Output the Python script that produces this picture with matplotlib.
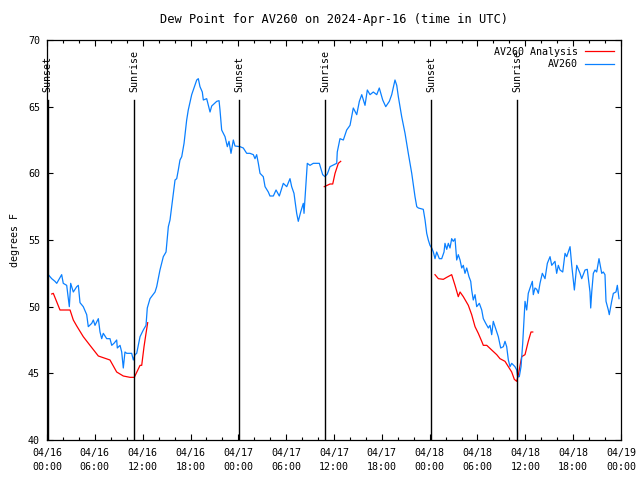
import numpy as np
import matplotlib
matplotlib.use('Agg')
import matplotlib.pyplot as plt
from matplotlib.ticker import MultipleLocator, FuncFormatter

# hours since 2024-04-16 00:00 UTC
obs_hours = [0.0, 0.16, 0.59, 1.0, 1.22, 1.84, 2.04, 2.47, 2.67, 2.80, 2.97, 3.30, 3.73, 3.93,
             4.14, 4.55, 4.98, 5.18, 5.61, 5.81, 6.02, 6.44, 6.65, 6.86, 7.06, 7.49, 7.90, 8.12,
             8.40, 8.74, 8.82, 9.16, 9.37, 9.57, 9.78, 10.0, 10.62, 10.83, 11.04, 11.25, 11.67,
             12.08, 12.42, 12.58, 12.92, 13.55, 13.76, 14.17, 14.59, 14.93, 15.22, 15.43, 15.64,
             15.84, 16.06, 16.27, 16.47, 16.68, 16.90, 17.19, 17.52, 17.72, 18.15, 18.44, 18.78,
             18.98, 19.19, 19.48, 19.61, 20.03, 20.45, 20.66, 21.29, 21.58, 21.70, 21.91, 22.33,
             22.62, 22.83, 23.08, 23.37, 23.58, 24.21, 24.62, 25.05, 25.46, 25.88, 26.09, 26.30,
             26.51, 26.72, 27.13, 27.35, 27.76, 27.97, 28.39, 28.73, 29.14, 29.64, 30.07, 30.48,
             30.69, 30.98, 31.32, 31.52, 31.82, 32.15, 32.24, 32.65, 32.99, 33.40, 34.16, 34.58,
             34.87, 35.16, 35.50, 36.34, 36.41, 36.75, 37.17, 37.59, 38.01, 38.42, 38.85, 39.18,
             39.48, 39.89, 40.18, 40.52, 40.93, 41.36, 41.68, 42.11, 42.49, 42.94, 43.24, 43.65,
             43.87, 44.07, 44.49, 44.91, 45.32, 45.75, 46.16, 46.38, 46.58, 47.20, 47.42, 47.63,
             47.83, 48.04, 48.26, 48.46, 48.67, 48.88, 49.21, 49.51, 49.80, 49.92, 50.14, 50.34,
             50.55, 50.76, 50.96, 51.18, 51.39, 51.59, 51.81, 52.02, 52.22, 52.43, 52.65, 52.93,
             53.15, 53.27, 53.47, 53.69, 53.90, 54.23, 54.53, 54.73, 55.03, 55.36, 55.57, 55.78,
             55.98, 56.20, 56.61, 56.91, 57.24, 57.45, 57.66, 57.87, 58.08, 58.29, 58.70, 58.92,
             59.04, 59.24, 59.46, 59.67, 59.83, 59.96, 60.17, 60.37, 60.59, 60.88, 61.00, 61.21,
             61.43, 61.63, 61.84, 62.13, 62.47, 62.76, 63.10, 63.31, 63.72, 63.93, 64.14, 64.35,
             64.69, 64.98, 65.19, 65.39, 65.61, 65.82, 66.02, 66.15, 66.45, 66.86, 67.07, 67.49,
             67.77, 68.11, 68.20, 68.33, 68.53, 68.74, 68.95, 69.24, 69.58, 69.78, 69.99, 70.12,
             70.41, 70.53, 70.83, 71.04, 71.37, 71.54, 71.75]
obs_dewpt = [53.2, 52.4, 52.1, 51.9, 51.75, 52.4, 51.75, 51.6, 50.6, 50.0, 51.75, 51.1, 51.5, 51.6,
             50.3, 50.0, 49.4, 48.5, 48.75, 49.0, 48.6, 49.1, 48.1, 47.6, 48.0, 47.6, 47.6, 47.1,
             47.25, 47.5, 46.9, 47.1, 46.6, 45.4, 46.6, 46.5, 46.5, 46.0, 46.4, 46.5, 47.75,
             48.25, 48.6, 49.9, 50.6, 51.1, 51.5, 52.75, 53.75, 54.1, 56.0, 56.5, 57.5,
             58.5, 59.5, 59.6, 60.25, 61.0, 61.25, 62.25, 64.0, 64.75, 65.9, 66.4, 67.0,
             67.1, 66.5, 66.1, 65.5, 65.6, 64.6, 65.05, 65.4, 65.45, 64.75, 63.25, 62.75,
             62.0, 62.4, 61.5, 62.5, 62.05, 62.0, 61.9, 61.5, 61.5, 61.4, 61.1, 61.4,
             60.75, 60.0, 59.75, 59.0, 58.6, 58.3, 58.3, 58.75, 58.3, 59.25, 59.0, 59.6,
             59.0, 58.5, 57.0, 56.4, 57.1, 57.75, 57.0, 60.75, 60.6, 60.75, 60.75, 59.9,
             59.75, 59.95, 60.5, 60.75, 61.6, 62.6, 62.5, 63.25, 63.6, 64.9, 64.4, 65.4,
             65.9, 65.1, 66.25, 65.9, 66.1, 65.9, 66.4, 65.5, 65.0, 65.4, 65.9, 67.0,
             66.6, 65.75, 64.25, 63.0, 61.5, 60.0, 58.25, 57.5, 57.4, 57.3, 56.5, 55.5,
             55.0, 54.6, 54.4, 54.1, 53.6, 54.1, 53.6, 53.6, 54.1, 54.75, 54.3, 54.75,
             54.4, 55.1, 54.9, 55.1, 53.5, 53.9, 53.5, 52.9, 53.1, 52.5, 52.9, 52.25,
             51.9, 51.25, 50.5, 50.9, 50.0, 50.25, 49.75, 49.1, 48.75, 48.4, 48.6, 47.9,
             48.9, 48.5, 47.75, 46.9, 47.0, 47.4, 47.0, 46.0, 45.5, 45.75, 45.5, 45.25,
             44.75, 44.75, 45.5, 47.25, 49.0, 50.4, 49.75, 51.0, 51.4, 51.9, 50.9, 51.4,
             51.3, 51.0, 51.75, 52.5, 52.1, 53.25, 53.75, 53.1, 53.4, 52.5, 53.1, 52.75,
             52.6, 54.0, 53.75, 54.1, 54.5, 53.1, 52.0, 51.25, 53.1, 52.5, 52.1, 52.75,
             52.8, 51.1, 49.9, 51.1, 52.5, 52.75, 52.6, 53.6, 52.5, 52.6, 52.4, 50.4,
             49.75, 49.4, 50.4, 51.0, 51.1, 51.6, 50.6]

# analysis segments (NaN = gap between runs)
ana_hours = [0.59, 0.79, 1.63, 2.89, 3.30, 3.73, 4.55, 5.39, 6.44, 7.90, 8.74, 9.57, 10.41, 10.95,
             11.67, 11.88, 12.17, 12.42, 12.63, np.nan,
             34.78, 35.50, 35.84, 36.13, 36.54, 36.84, np.nan,
             48.67, 49.09, 49.71, 50.14, 50.76, 51.18, 51.59, 51.81, 52.22, 52.85, 53.27, 53.69,
             54.10, 54.53, 54.73, 55.16, 55.78, 56.41, 56.82, 57.45, 57.87, 58.29, 58.62, 58.92,
             59.13, 59.54, 59.96, 60.37, 60.71, 60.93]
ana_dewpt = [50.95, 51.0, 49.75, 49.75, 49.0, 48.55, 47.75, 47.1, 46.3, 46.0, 45.1, 44.8, 44.7, 44.7,
             45.6, 45.6, 47.0, 48.0, 48.8, np.nan,
             59.0, 59.2, 59.2, 60.0, 60.75, 60.9, np.nan,
             52.4, 52.1, 52.05, 52.2, 52.4, 51.6, 50.75, 51.1, 50.75, 50.1, 49.4, 48.5,
             48.0, 47.4, 47.1, 47.1, 46.75, 46.4, 46.1, 45.9, 45.5, 45.1, 44.55, 44.4,
             44.9, 46.25, 46.4, 47.4, 48.1, 48.1]

sun_hours = [0.08, 10.9, 24.1, 34.9, 48.2, 59.0]
sun_labels = ['Sunset', 'Sunrise', 'Sunset', 'Sunrise', 'Sunset', 'Sunrise']
day_labels = ['04/16', '04/17', '04/18', '04/19']

plt.rcParams['font.family'] = 'DejaVu Sans Mono'
plt.rcParams['font.size'] = 7.2

fig = plt.figure(figsize=(6.4, 4.8), dpi=100)
ax = fig.add_axes([47/640, 40/480, 574/640, 400/480])

ax.plot(ana_hours, ana_dewpt, '-', color='#ff0000', linewidth=0.9, label='AV260 Analysis')
ax.plot(obs_hours, obs_dewpt, '-', color='#0a80ff', linewidth=0.9, label='AV260')

for h, lab in zip(sun_hours, sun_labels):
    ax.plot([h, h], [40, 65.5], color='black', linewidth=1.0)
    ax.text(h, 66.1, lab, rotation=90, ha='center', va='bottom')

ax.set_xlim(0, 72)
ax.set_ylim(40, 70)
ax.xaxis.set_major_locator(MultipleLocator(6))
ax.xaxis.set_minor_locator(MultipleLocator(2))
ax.yaxis.set_major_locator(MultipleLocator(5))

def fmt(v, pos):
    d = int(v // 24)
    return '%s\n%02d:00' % (day_labels[d], int(v % 24))
ax.xaxis.set_major_formatter(FuncFormatter(fmt))

ax.tick_params(which='both', direction='in', top=True, right=True, width=0.8)
ax.tick_params(which='major', length=4, pad=5)
ax.tick_params(axis='x', which='major', pad=6)
ax.tick_params(which='minor', length=2)
for lbl in ax.get_xticklabels():
    lbl.set_linespacing(1.45)
for s in ax.spines.values():
    s.set_linewidth(0.9)

ax.set_title('Dew Point for AV260 on 2024-Apr-16 (time in UTC)', pad=12)
ax.set_ylabel('degrees F', labelpad=6)

ax.legend(loc='upper right', frameon=False, markerfirst=False, handlelength=2.9,
          handletextpad=0.7, labelspacing=0.25, borderaxespad=0.3)

fig.savefig('out.png', dpi=100)
